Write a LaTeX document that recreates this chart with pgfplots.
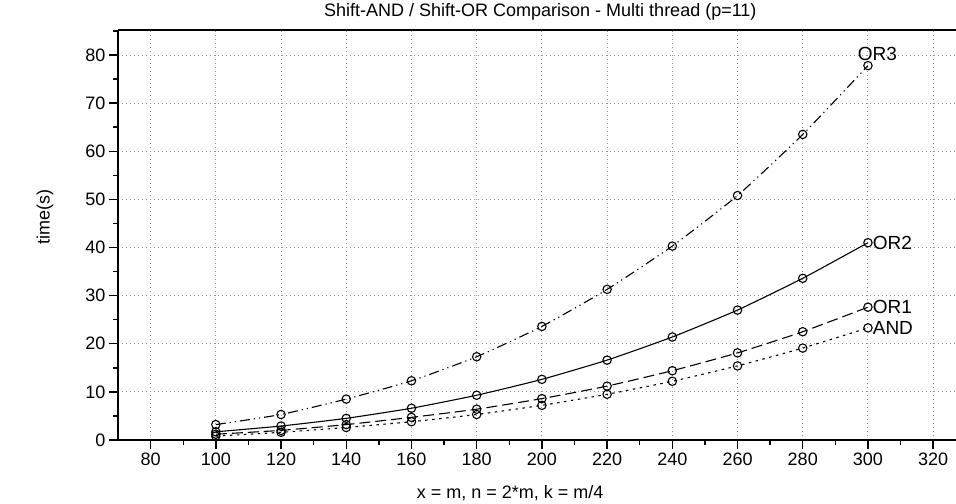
\documentclass[border=0pt]{standalone}
\usepackage{fontspec}
\setmainfont{Liberation Sans}
\usepackage{pgfplots}
\pgfplotsset{compat=1.18}
\usetikzlibrary{calc}

\pgfplotstableread{
x    AND   OR1   OR2   OR3
100  0.8   1.2   1.7   3.2
120  1.6   2.0   2.9   5.3
140  2.6   3.2   4.5   8.5
160  3.8   4.7   6.6   12.3
180  5.3   6.4   9.3   17.3
200  7.2   8.6   12.6  23.6
220  9.5   11.2  16.6  31.3
240  12.2  14.4  21.4  40.3
260  15.4  18.1  27.0  50.8
280  19.1  22.5  33.6  63.5
300  23.3  27.6  41.0  77.8
}\datatable

\begin{document}
\begin{tikzpicture}
\begin{axis}[name=ax,
  scale only axis, width=838pt, height=410pt,
  xmin=70, xmax=327, ymin=0, ymax=85.2,
  axis lines=left, axis line style={-, line width=1.4pt},
  xtick={80,100,...,320}, minor xtick={90,110,...,330},
  ytick={0,10,...,80}, minor ytick={5,15,...,85},
  tick align=outside, major tick length=9pt, minor tick length=5pt,
  tick style={black, line width=1.4pt},
  grid=major, major grid style={dash pattern=on 1pt off 3pt, gray!85, line width=1pt},
  /pgf/number format/assume math mode=true,
  ticklabel style={font=\fontsize{18}{20}\selectfont},
  title={Shift-AND / Shift-OR Comparison - Multi thread (p=11)},
  every axis title/.style={at={(rel axis cs:0.504,1)}, yshift=18pt, anchor=center, font=\fontsize{18}{20}\selectfont},
  xlabel={x = m, n = 2*m, k = m/4},
  every axis x label/.style={at={(rel axis cs:0.468,0)}, yshift=-53pt, anchor=center, font=\fontsize{18}{20}\selectfont},
  ylabel={time(s)},
  every axis y label/.style={at={(rel axis cs:0,0.544)}, xshift=-73pt, rotate=90, anchor=center, font=\fontsize{18}{20}\selectfont},
  every axis plot/.append style={black, line width=1.1pt},
  mark options={solid, fill=white, line width=1.1pt},
  mark size=4.2pt,
]
\draw[line width=1.4pt] (rel axis cs:0,1) -- (rel axis cs:1,1);
\addplot[mark=o, smooth, tension=0.3, dash pattern=on 10pt off 4pt on 1.2pt off 4pt on 1.2pt off 4pt]
  table[x=x,y=OR3]{\datatable}
  node[pos=1, anchor=south west, xshift=-14pt, yshift=1pt, font=\fontsize{19}{21}\selectfont]{OR3};
\addplot[mark=o, smooth, tension=0.3]
  table[x=x,y=OR2]{\datatable}
  node[pos=1, anchor=west, xshift=1pt, font=\fontsize{19}{21}\selectfont]{OR2};
\addplot[mark=o, smooth, tension=0.3, dash pattern=on 11pt off 5pt]
  table[x=x,y=OR1]{\datatable}
  node[pos=1, anchor=west, xshift=1pt, font=\fontsize{19}{21}\selectfont]{OR1};
\addplot[mark=o, smooth, tension=0.3, dash pattern=on 2.5pt off 4.5pt]
  table[x=x,y=AND]{\datatable}
  node[pos=1, anchor=west, xshift=1pt, font=\fontsize{19}{21}\selectfont]{AND};
\end{axis}
\pgfresetboundingbox
\path ($(ax.south west)+(-118pt,-64pt)$) rectangle ($(ax.north east)+(0pt,30pt)$);
\end{tikzpicture}
\end{document}
